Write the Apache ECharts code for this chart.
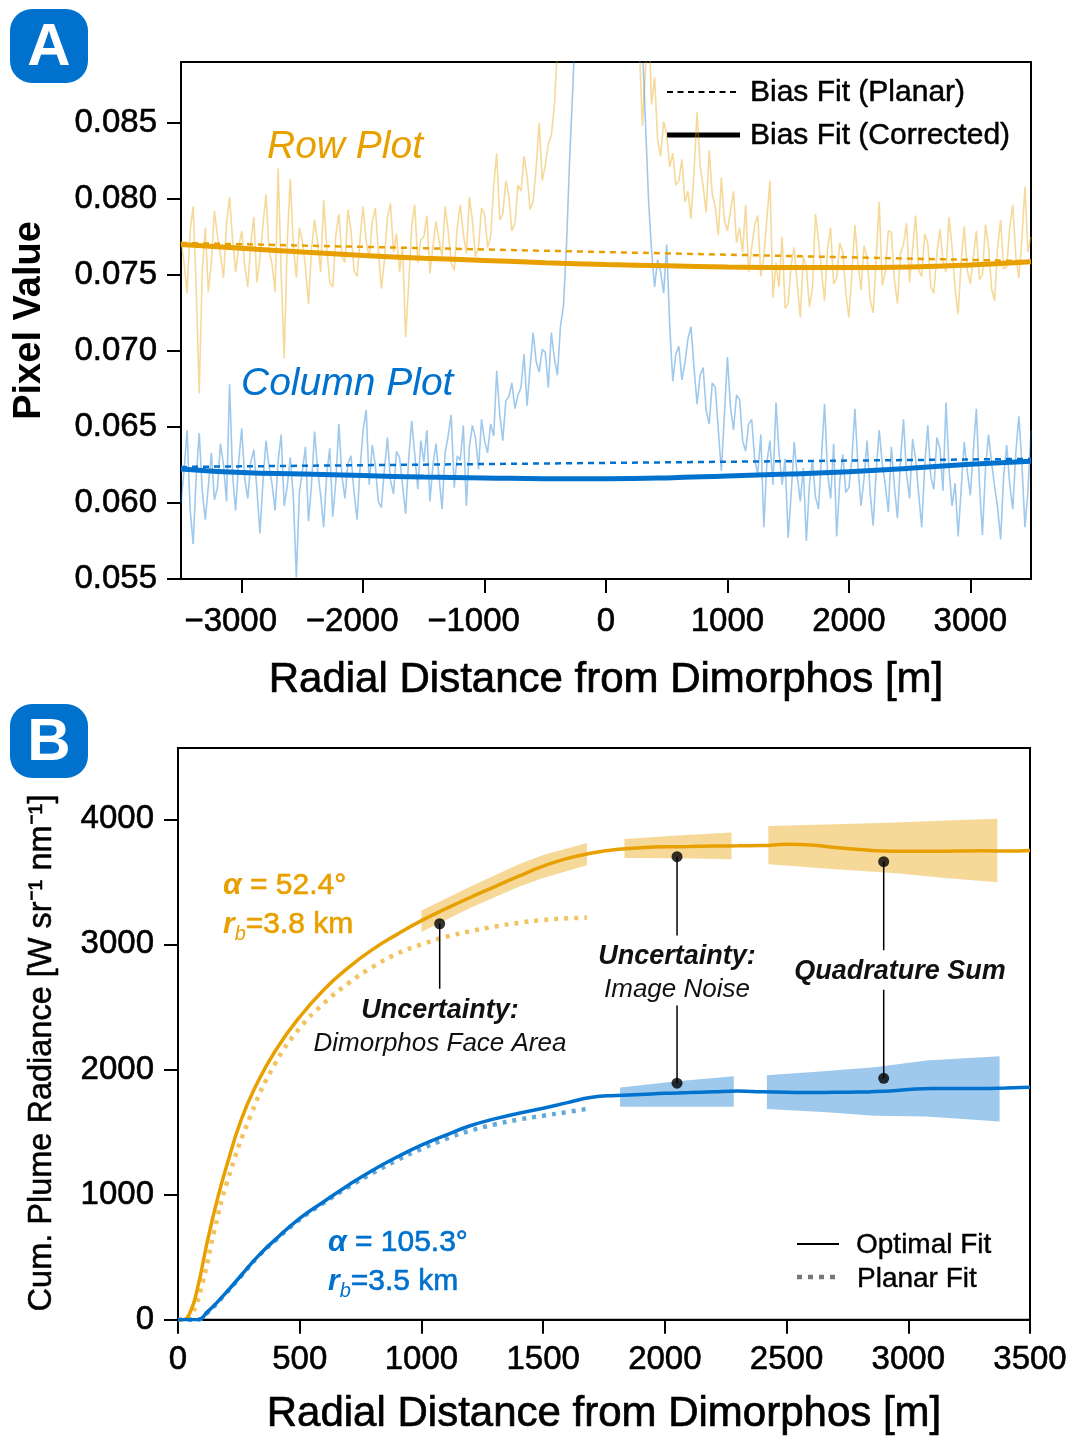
<!DOCTYPE html>
<html>
<head>
<meta charset="utf-8">
<script src="https://cdn.jsdelivr.net/npm/echarts@6/dist/echarts.min.js"></script>
<style>
html,body{margin:0;padding:0;background:#fff;}
#chart{width:1072px;height:1437px;}
</style>
</head>
<body>
<div id="chart"></div>
<script>
// ---------------- Panel A data (sampled every 25 m from -3500 m) ----------------
const A_X_START = -3500, A_X_STEP = 25;
const rowPlotValues = [
 0.0772,0.0758,0.0738,0.0779,0.0795,0.0742,0.0672,0.0752,0.0781,0.0739,0.0758,0.0792,0.0776,0.0763,0.0748,0.0784,0.0801,0.0773,0.0752,0.0768,
 0.0779,0.0756,0.0742,0.0771,0.0788,0.0745,0.0761,0.0783,0.0803,0.0766,0.0757,0.0739,0.0820,0.0751,0.0695,0.0772,0.0813,0.0769,0.0748,0.0781,
 0.0772,0.0755,0.0731,0.0767,0.0786,0.0771,0.0752,0.0799,0.0768,0.0745,0.0742,0.0776,0.0790,0.0762,0.0758,0.0793,0.0779,0.0753,0.0749,0.0774,
 0.0795,0.0772,0.0761,0.0785,0.0794,0.0766,0.0741,0.0759,0.0788,0.0797,0.0765,0.0777,0.0752,0.0768,0.0709,0.0744,0.0782,0.0796,0.0758,0.0773,
 0.0775,0.0789,0.0751,0.0769,0.0785,0.0773,0.0762,0.0795,0.0779,0.0758,0.0753,0.0781,0.0796,0.0777,0.0764,0.0801,0.0786,0.0762,0.0768,0.0794,
 0.0790,0.0768,0.0775,0.0808,0.0830,0.0786,0.0790,0.0812,0.0802,0.0779,0.0784,0.0809,0.0805,0.0828,0.0815,0.0793,0.0798,0.0821,0.0850,0.0812,
 0.0822,0.0836,0.0842,0.0861,0.0900,0.0920,0.0960,0.0990,0.1020,0.1050,0.1080,0.1110,0.1150,0.1190,0.1220,0.1240,0.1260,0.1270,0.1280,0.1280,
 0.1270,0.1260,0.1240,0.1210,0.1180,0.1140,0.1100,0.1060,0.1020,0.0990,0.0950,0.0900,0.0848,0.0885,0.0920,0.0862,0.0880,0.0839,0.0828,0.0851,
 0.0842,0.0821,0.0830,0.0809,0.0812,0.0826,0.0798,0.0805,0.0787,0.0818,0.0857,0.0822,0.0808,0.0791,0.0832,0.0803,0.0795,0.0776,0.0814,0.0786,
 0.0779,0.0792,0.0805,0.0771,0.0781,0.0765,0.0796,0.0752,0.0768,0.0783,0.0789,0.0749,0.0762,0.0787,0.0812,0.0735,0.0758,0.0742,0.0775,0.0728,
 0.0731,0.0757,0.0768,0.0744,0.0722,0.0762,0.0755,0.0729,0.0741,0.0790,0.0773,0.0752,0.0733,0.0768,0.0781,0.0744,0.0748,0.0771,0.0765,0.0738,
 0.0722,0.0751,0.0783,0.0758,0.0740,0.0769,0.0762,0.0734,0.0725,0.0761,0.0798,0.0743,0.0752,0.0779,0.0778,0.0747,0.0731,0.0764,0.0770,0.0784,
 0.0745,0.0767,0.0789,0.0753,0.0749,0.0777,0.0771,0.0742,0.0738,0.0764,0.0780,0.0759,0.0752,0.0788,0.0768,0.0741,0.0724,0.0759,0.0782,0.0753,
 0.0744,0.0762,0.0779,0.0747,0.0750,0.0783,0.0769,0.0741,0.0733,0.0768,0.0786,0.0754,0.0755,0.0781,0.0796,0.0762,0.0748,0.0773,0.0808,0.0765,
 0.0775
];
const columnPlotValues = [
 0.0600,0.0621,0.0648,0.0596,0.0573,0.0617,0.0646,0.0608,0.0589,0.0611,0.0633,0.0602,0.0610,0.0639,0.0625,0.0601,0.0678,0.0618,0.0595,0.0627,
 0.0649,0.0616,0.0603,0.0627,0.0635,0.0609,0.0580,0.0614,0.0641,0.0624,0.0612,0.0595,0.0628,0.0645,0.0598,0.0611,0.0630,0.0604,0.0551,0.0607,
 0.0621,0.0637,0.0588,0.0612,0.0647,0.0622,0.0605,0.0584,0.0619,0.0636,0.0591,0.0614,0.0652,0.0618,0.0603,0.0626,0.0631,0.0607,0.0589,0.0623,
 0.0648,0.0661,0.0612,0.0638,0.0625,0.0601,0.0597,0.0622,0.0643,0.0615,0.0606,0.0634,0.0630,0.0611,0.0593,0.0629,0.0654,0.0632,0.0609,0.0641,
 0.0627,0.0648,0.0601,0.0625,0.0639,0.0617,0.0596,0.0633,0.0644,0.0658,0.0610,0.0631,0.0628,0.0651,0.0598,0.0637,0.0651,0.0643,0.0622,0.0655,
 0.0641,0.0633,0.0652,0.0644,0.0687,0.0658,0.0641,0.0667,0.0670,0.0679,0.0662,0.0671,0.0676,0.0698,0.0664,0.0689,0.0712,0.0693,0.0686,0.0701,
 0.0699,0.0676,0.0712,0.0695,0.0684,0.0716,0.0730,0.0770,0.0825,0.0870,0.0920,0.0960,0.1000,0.1050,0.1100,0.1150,0.1200,0.1230,0.1250,0.1260,
 0.1250,0.1230,0.1200,0.1150,0.1100,0.1050,0.1000,0.0980,0.0950,0.0935,0.0920,0.0910,0.0900,0.0850,0.0800,0.0766,0.0742,0.0760,0.0752,0.0738,
 0.0770,0.0716,0.0680,0.0698,0.0703,0.0681,0.0692,0.0708,0.0716,0.0689,0.0665,0.0684,0.0689,0.0661,0.0652,0.0679,0.0676,0.0648,0.0621,0.0658,
 0.0696,0.0663,0.0648,0.0671,0.0668,0.0641,0.0634,0.0652,0.0655,0.0628,0.0619,0.0645,0.0584,0.0627,0.0641,0.0612,0.0666,0.0633,0.0612,0.0629,
 0.0577,0.0606,0.0640,0.0618,0.0601,0.0623,0.0575,0.0612,0.0628,0.0604,0.0596,0.0631,0.0665,0.0619,0.0603,0.0639,0.0578,0.0614,0.0632,0.0607,
 0.0610,0.0629,0.0662,0.0624,0.0598,0.0616,0.0641,0.0607,0.0585,0.0621,0.0648,0.0626,0.0612,0.0594,0.0637,0.0611,0.0590,0.0628,0.0655,0.0619,
 0.0603,0.0642,0.0629,0.0606,0.0584,0.0625,0.0651,0.0617,0.0609,0.0643,0.0636,0.0608,0.0666,0.0622,0.0598,0.0613,0.0578,0.0609,0.0640,0.0621,
 0.0605,0.0634,0.0662,0.0613,0.0579,0.0622,0.0645,0.0627,0.0611,0.0597,0.0576,0.0618,0.0638,0.0612,0.0596,0.0633,0.0657,0.0626,0.0584,0.0608,
 0.0648
];
const fitX = [-3500,-3000,-2500,-2000,-1500,-1000,-500,0,500,1000,1500,2000,2500,3000,3500];
const rowCorrectedFit = [0.0770,0.07675,0.0765,0.07628,0.0761,0.07595,0.0758,0.07568,0.0756,0.07552,0.07548,0.07548,0.07552,0.07565,0.07586];
const colCorrectedFit = [0.06224,0.0620,0.0619,0.0618,0.0617,0.06165,0.0616,0.0616,0.06165,0.06178,0.0619,0.06206,0.06228,0.06255,0.06275];
const planarX = [-3500, 3500];
const rowPlanarFit = [0.0771, 0.0759];
const colPlanarFit = [0.06237, 0.0629];
const aYTicks = [0.055,0.060,0.065,0.070,0.075,0.080,0.085];
const aXTicks = [-3000,-2000,-1000,0,1000,2000,3000];

// ---------------- Panel B data ----------------
const rowOptimalFit = [[0,0],[20,0],[50,60],[80,250],[120,620],[160,950],[200,1230],[260,1600],[320,1870],[400,2150],[500,2420],[600,2640],[700,2815],[800,2960],[900,3080],[1000,3190],[1100,3285],[1200,3375],[1300,3460],[1400,3545],[1500,3625],[1600,3688],[1700,3730],[1800,3758],[1900,3772],[2000,3780],[2100,3782],[2200,3786],[2300,3788],[2400,3790],[2500,3800],[2600,3795],[2700,3774],[2800,3758],[2900,3746],[3000,3744],[3100,3744],[3200,3746],[3300,3748],[3400,3746],[3500,3750]];
const rowPlanarRadiance = [[0,0],[30,0],[60,50],[100,290],[150,720],[200,1090],[300,1640],[400,2050],[500,2330],[600,2530],[700,2690],[800,2820],[900,2925],[1000,3000],[1100,3060],[1200,3105],[1300,3142],[1400,3172],[1500,3195],[1600,3208],[1680,3214]];
const colOptimalFit = [[0,0],[80,0],[120,60],[190,200],[260,355],[330,510],[400,640],[500,810],[600,945],[700,1075],[800,1195],[900,1300],[1000,1395],[1100,1475],[1200,1550],[1300,1605],[1400,1650],[1500,1690],[1600,1735],[1700,1778],[1800,1792],[1900,1800],[2000,1810],[2100,1815],[2200,1822],[2300,1827],[2400,1822],[2500,1818],[2600,1815],[2700,1818],[2800,1820],[2900,1825],[3000,1840],[3100,1848],[3200,1848],[3300,1848],[3400,1852],[3500,1858]];
const colPlanarRadiance = [[0,0],[80,0],[120,55],[190,195],[260,350],[330,505],[400,635],[500,800],[600,935],[700,1060],[800,1172],[900,1275],[1000,1365],[1100,1445],[1200,1510],[1300,1560],[1400,1600],[1500,1630],[1600,1660],[1680,1685]];
// bands: [x, lower, upper]
const rowBandFaceArea = [[1000,3100,3270],[1200,3290,3460],[1400,3460,3640],[1500,3530,3715],[1680,3632,3810]];
const rowBandImageNoise = [[1834,3691,3843],[2050,3688,3870],[2274,3680,3895]];
const rowBandQuadrature = [[2425,3640,3947],[2700,3600,3960],[2950,3568,3975],[3150,3530,3990],[3366,3496,4005]];
const colBandImageNoise = [[1816,1703,1856],[2050,1703,1905],[2283,1703,1945]];
const colBandQuadrature = [[2419,1685,1953],[2650,1660,1985],[2861,1630,2018],[3074,1624,2071],[3375,1585,2105]];
const annotationDots = [[1075,3165],[2050,3701],[2050,1890],[2899,3661],[2899,1929]];
const annotationLeaders = [
  [[1075,3165],[1075,2646]],
  [[2050,3701],[2050,3071]],
  [[2050,2512],[2050,1890]],
  [[2899,3661],[2899,2953]],
  [[2899,2638],[2899,1929]]
];
const bXTicks = [0,500,1000,1500,2000,2500,3000,3500];
const bYTicks = [0,1000,2000,3000,4000];

// ---------------- styling ----------------
const FONT = '"Liberation Sans", Arial, Helvetica, sans-serif';
const ORANGE = '#E8A000';
const BLUE = '#0072CE';
const ORANGE_LIGHT = 'rgba(232,160,0,0.40)';
const BLUE_LIGHT = 'rgba(0,114,206,0.38)';
const ORANGE_BAND = 'rgba(232,160,0,0.40)';
const BLUE_BAND = 'rgba(0,114,206,0.38)';
const HEAVY = {textBorderColor: '#000', textBorderWidth: 0.6};

const aXGrid = rowPlotValues.map((_, i) => A_X_START + i * A_X_STEP);
const zip = (xs, ys) => xs.map((x, i) => [x, ys[i]]);

function axisCommon(ticks, fmt, margin, rich) {
  const lab = Object.assign({show: true, color: '#000', fontFamily: FONT, fontSize: 33, margin: margin,
    customValues: ticks, formatter: fmt}, HEAVY);
  if (rich) lab.rich = rich;
  return {
    axisLine: {show: true, onZero: false, lineStyle: {color: '#000', width: 2}},
    axisTick: {show: true, inside: false, length: 14, lineStyle: {color: '#000', width: 2}, customValues: ticks},
    axisLabel: lab,
    splitLine: {show: false}
  };
}

const negRich = {
  neg: Object.assign({fontFamily: FONT, fontSize: 33, color: '#000', padding: [0, 22, 0, 0]}, HEAVY),
  pos: Object.assign({fontFamily: FONT, fontSize: 33, color: '#000'}, HEAVY)
};

const bands = [
  {pts: rowBandFaceArea, color: ORANGE_BAND},
  {pts: rowBandImageNoise, color: ORANGE_BAND},
  {pts: rowBandQuadrature, color: ORANGE_BAND},
  {pts: colBandImageNoise, color: BLUE_BAND},
  {pts: colBandQuadrature, color: BLUE_BAND}
];

const chart = echarts.init(document.getElementById('chart'), null, {renderer: 'canvas'});

const titleStyle = Object.assign({color: '#000', fontFamily: FONT, fontSize: 42}, {textBorderColor: '#000', textBorderWidth: 0.7});

const option = {
  backgroundColor: '#fff',
  animation: false,
  grid: [
    {left: 181, right: 41, top: 62, height: 517, show: true, borderColor: '#000', borderWidth: 2, containLabel: false},
    {left: 178, right: 42, top: 748, height: 580, show: true, borderColor: '#000', borderWidth: 2, containLabel: false}
  ],
  xAxis: [
    Object.assign({type: 'value', gridIndex: 0, min: -3500, max: 3500,
      name: 'Radial Distance from Dimorphos [m]', nameLocation: 'middle', nameGap: 80},
      axisCommon(aXTicks, v => (v < 0 ? '{neg|\u2212' + Math.abs(v) + '}' : '{pos|' + v + '}'), 26, negRich),
      {nameTextStyle: titleStyle}),
    Object.assign({type: 'value', gridIndex: 1, min: 0, max: 3500, interval: 500,
      name: 'Radial Distance from Dimorphos [m]', nameLocation: 'middle', nameGap: 74},
      axisCommon(bXTicks, v => String(v), 24),
      {nameTextStyle: titleStyle})
  ],
  yAxis: [
    Object.assign({type: 'value', gridIndex: 0, min: 0.055, max: 0.089,
      name: 'Pixel Value', nameLocation: 'middle', nameRotate: 90, nameGap: 132},
      axisCommon(aYTicks, v => v.toFixed(3), 24),
      {nameTextStyle: {color: '#000', fontFamily: FONT, fontSize: 38, fontWeight: 'bold'}}),
    Object.assign({type: 'value', gridIndex: 1, min: 0, max: 4570},
      axisCommon(bYTicks, v => String(v), 24))
  ],
  series: [
    // Panel A
    {type: 'line', xAxisIndex: 0, yAxisIndex: 0, data: zip(aXGrid, rowPlotValues), showSymbol: false, clip: true,
      lineStyle: {color: ORANGE_LIGHT, width: 1.6}, z: 2, silent: true},
    {type: 'line', xAxisIndex: 0, yAxisIndex: 0, data: zip(aXGrid, columnPlotValues), showSymbol: false, clip: true,
      lineStyle: {color: BLUE_LIGHT, width: 1.6}, z: 2, silent: true},
    {type: 'line', xAxisIndex: 0, yAxisIndex: 0, data: zip(planarX, rowPlanarFit), showSymbol: false,
      lineStyle: {color: ORANGE, width: 2.5, type: [6, 5]}, z: 3, silent: true},
    {type: 'line', xAxisIndex: 0, yAxisIndex: 0, data: zip(planarX, colPlanarFit), showSymbol: false,
      lineStyle: {color: BLUE, width: 2.5, type: [6, 5]}, z: 3, silent: true},
    {type: 'line', xAxisIndex: 0, yAxisIndex: 0, data: zip(fitX, rowCorrectedFit), showSymbol: false, smooth: true,
      lineStyle: {color: ORANGE, width: 5}, z: 4, silent: true},
    {type: 'line', xAxisIndex: 0, yAxisIndex: 0, data: zip(fitX, colCorrectedFit), showSymbol: false, smooth: true,
      lineStyle: {color: BLUE, width: 5}, z: 4, silent: true},
    // Panel B bands
    {type: 'custom', xAxisIndex: 1, yAxisIndex: 1, data: bands.map((b, i) => [i]), silent: true, z: 1,
      renderItem: function (params, api) {
        const b = bands[api.value(0)];
        const up = b.pts.map(p => api.coord([p[0], p[2]]));
        const lo = b.pts.map(p => api.coord([p[0], p[1]])).reverse();
        return {type: 'polygon', shape: {points: up.concat(lo)}, style: {fill: b.color}};
      }},
    {type: 'line', xAxisIndex: 1, yAxisIndex: 1, data: rowPlanarRadiance, showSymbol: false, smooth: true,
      lineStyle: {color: 'rgba(232,160,0,0.62)', width: 4.5, type: [4, 6], cap: 'butt'}, z: 2, silent: true},
    {type: 'line', xAxisIndex: 1, yAxisIndex: 1, data: colPlanarRadiance, showSymbol: false, smooth: true,
      lineStyle: {color: '#62a9d9', width: 4.5, type: [4, 6], cap: 'butt'}, z: 2, silent: true},
    {type: 'line', xAxisIndex: 1, yAxisIndex: 1, data: rowOptimalFit, showSymbol: false, smooth: true,
      lineStyle: {color: ORANGE, width: 3.5}, z: 3, silent: true},
    {type: 'line', xAxisIndex: 1, yAxisIndex: 1, data: colOptimalFit, showSymbol: false, smooth: true,
      lineStyle: {color: BLUE, width: 3.5}, z: 3, silent: true}
  ].concat(annotationLeaders.map(seg => ({
      type: 'line', xAxisIndex: 1, yAxisIndex: 1, data: seg, showSymbol: false,
      lineStyle: {color: '#000', width: 1.5}, z: 5, silent: true
    }))).concat([
    {type: 'scatter', xAxisIndex: 1, yAxisIndex: 1, data: annotationDots, symbol: 'circle', symbolSize: 11,
      itemStyle: {color: '#000'}, z: 6, silent: true}
  ]),
  graphic: [
    // panel badges
    {type: 'rect', left: 10, top: 9, shape: {width: 78, height: 74, r: 22}, style: {fill: BLUE}},
    {type: 'text', x: 49, y: 48, style: {text: 'A', fill: '#fff', font: 'bold 60px ' + FONT, textAlign: 'center', textVerticalAlign: 'middle'}},
    {type: 'rect', left: 10, top: 704, shape: {width: 78, height: 74, r: 22}, style: {fill: BLUE}},
    {type: 'text', x: 49, y: 743, style: {text: 'B', fill: '#fff', font: 'bold 60px ' + FONT, textAlign: 'center', textVerticalAlign: 'middle'}},
    // panel B y-axis title
    {type: 'text', x: 42, y: 1053, rotation: Math.PI / 2, style: {
      text: 'Cum. Plume Radiance [W sr\u207B\u00B9 nm\u207B\u00B9]', fill: '#000', font: '32.5px ' + FONT,
      textAlign: 'center', textVerticalAlign: 'middle', stroke: '#000', lineWidth: 0.5}},
    // panel A labels
    {type: 'text', x: 267, y: 147, style: {text: 'Row Plot', fill: ORANGE, font: 'italic 39px ' + FONT, textVerticalAlign: 'middle'}},
    {type: 'text', x: 241, y: 384, style: {text: 'Column Plot', fill: BLUE, font: 'italic 39px ' + FONT, textVerticalAlign: 'middle'}},
    // panel A legend
    {type: 'line', shape: {x1: 667, y1: 92, x2: 740, y2: 92}, style: {stroke: '#000', lineWidth: 2.2, lineDash: [6, 4.5]}},
    {type: 'line', shape: {x1: 667, y1: 135, x2: 740, y2: 135}, style: {stroke: '#000', lineWidth: 5}},
    {type: 'text', x: 750, y: 93, style: {text: 'Bias Fit (Planar)', fill: '#000', font: '30px ' + FONT, textVerticalAlign: 'middle', stroke: '#000', lineWidth: 0.5}},
    {type: 'text', x: 750, y: 136, style: {text: 'Bias Fit (Corrected)', fill: '#000', font: '30px ' + FONT, textVerticalAlign: 'middle', stroke: '#000', lineWidth: 0.5}},
    // panel B parameter labels
    {type: 'text', x: 223, y: 905, style: {
      text: '{a|\u03B1}{n| = 52.4\u00B0}\n{r|r}{s|b}{n|=3.8 km}', fill: ORANGE, textVerticalAlign: 'middle',
      rich: {
        a: {font: 'italic bold 30px ' + FONT, fill: ORANGE, lineHeight: 39},
        n: {font: '30px ' + FONT, fill: ORANGE, lineHeight: 39, stroke: ORANGE, lineWidth: 0.6},
        r: {font: 'italic bold 30px ' + FONT, fill: ORANGE, lineHeight: 39},
        s: {font: 'italic 20px ' + FONT, fill: ORANGE, lineHeight: 39, verticalAlign: 'bottom'}
      }}},
    {type: 'text', x: 328, y: 1262, style: {
      text: '{a|\u03B1}{n| = 105.3\u00B0}\n{r|r}{s|b}{n|=3.5 km}', fill: BLUE, textVerticalAlign: 'middle',
      rich: {
        a: {font: 'italic bold 30px ' + FONT, fill: BLUE, lineHeight: 39},
        n: {font: '30px ' + FONT, fill: BLUE, lineHeight: 39, stroke: BLUE, lineWidth: 0.6},
        r: {font: 'italic bold 30px ' + FONT, fill: BLUE, lineHeight: 39},
        s: {font: 'italic 20px ' + FONT, fill: BLUE, lineHeight: 39, verticalAlign: 'bottom'}
      }}},
    // annotation texts
    {type: 'text', x: 440, y: 1011, style: {text: 'Uncertainty:', fill: '#111', font: 'italic bold 27px ' + FONT, textAlign: 'center', textVerticalAlign: 'middle'}},
    {type: 'text', x: 440, y: 1044, style: {text: 'Dimorphos Face Area', fill: '#111', font: 'italic 26px ' + FONT, textAlign: 'center', textVerticalAlign: 'middle'}},
    {type: 'text', x: 677, y: 957, style: {text: 'Uncertainty:', fill: '#111', font: 'italic bold 27px ' + FONT, textAlign: 'center', textVerticalAlign: 'middle'}},
    {type: 'text', x: 677, y: 990, style: {text: 'Image Noise', fill: '#111', font: 'italic 26px ' + FONT, textAlign: 'center', textVerticalAlign: 'middle'}},
    {type: 'text', x: 900, y: 972, style: {text: 'Quadrature Sum', fill: '#111', font: 'italic bold 27px ' + FONT, textAlign: 'center', textVerticalAlign: 'middle'}},
    // panel B legend
    {type: 'line', shape: {x1: 797, y1: 1244, x2: 839, y2: 1244}, style: {stroke: '#000', lineWidth: 2}},
    {type: 'line', shape: {x1: 797, y1: 1277, x2: 838, y2: 1277}, style: {stroke: '#777', lineWidth: 4.5, lineDash: [5, 6]}},
    {type: 'text', x: 856, y: 1245, style: {text: 'Optimal Fit', fill: '#000', font: '28px ' + FONT, textVerticalAlign: 'middle', stroke: '#000', lineWidth: 0.4}},
    {type: 'text', x: 857, y: 1279, style: {text: 'Planar Fit', fill: '#000', font: '28px ' + FONT, textVerticalAlign: 'middle', stroke: '#000', lineWidth: 0.4}}
  ]
};
chart.setOption(option);
</script>
</body>
</html>
